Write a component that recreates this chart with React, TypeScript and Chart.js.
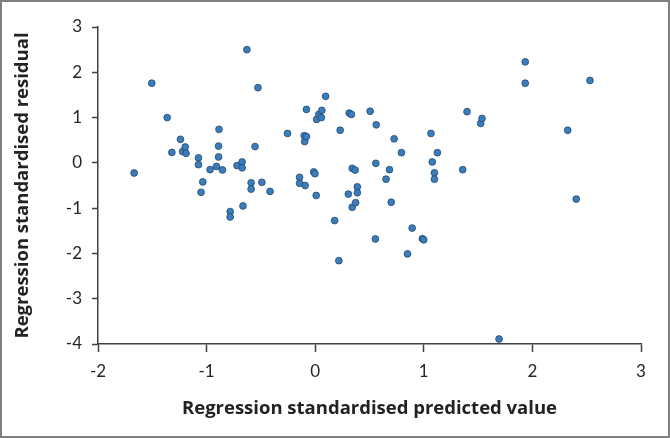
import { useEffect, useRef } from "react";
import Chart from "chart.js/auto";

const predictedValues: number[] = [
  -1.667, -1.505, -1.363, -1.32, -1.241, -1.221, -1.197, -1.189, -1.075, -1.075,
  -1.035, -1.051, -0.968, -0.909, -0.886, -0.89, -0.89, -0.854, -0.783, -0.783,
  -0.72, -0.673, -0.673, -0.665, -0.629, -0.59, -0.59, -0.554, -0.527, -0.491,
  -0.416, -0.255, -0.144, -0.144, -0.093, -0.101, -0.097, -0.081, -0.081, -0.014,
  -0.002, 0.009, 0.013, 0.033, 0.061, 0.057, 0.096, 0.179, 0.218, 0.23,
  0.305, 0.313, 0.333, 0.341, 0.341, 0.368, 0.372, 0.388, 0.388, 0.506,
  0.554, 0.558, 0.562, 0.652, 0.684, 0.7, 0.727, 0.794, 0.85, 0.893,
  0.987, 0.999, 1.066, 1.078, 1.098, 1.098, 1.125, 1.358, 1.398, 1.524,
  1.536, 1.693, 1.934, 1.934, 2.325, 2.404, 2.53,
];

const residualValues: number[] = [
  -0.224, 1.76, 1.0, 0.23, 0.52, 0.25, 0.35, 0.21, 0.11, -0.04,
  -0.42, -0.65, -0.15, -0.08, 0.74, 0.37, 0.13, -0.157, -1.076, -1.194,
  -0.06, 0.02, -0.11, -0.95, 2.5, -0.44, -0.58, 0.36, 1.66, -0.43,
  -0.63, 0.65, -0.32, -0.45, -0.5, 0.6, 0.47, 0.58, 1.18, -0.2,
  -0.24, -0.72, 0.96, 1.07, 1.16, 1.0, 1.47, -1.275, -2.16, 0.72,
  -0.69, 1.1, 1.07, -0.12, -0.98, -0.16, -0.88, -0.53, -0.66, 1.14,
  -1.68, -0.01, 0.84, -0.36, -0.15, -0.87, 0.53, 0.225, -2.01, -1.44,
  -1.675, -1.7, 0.65, 0.02, -0.22, -0.36, 0.225, -0.15, 1.13, 0.87,
  0.98, -3.89, 2.23, 1.76, 0.72, -0.8, 1.82,
];

const xAxisRange = [-2, 3];
const yAxisRange = [-4, 3];
const xTitle = "Regression standardised predicted value";
const yTitle = "Regression standardised residual";

export default function App() {
  const canvasRef = useRef<HTMLCanvasElement | null>(null);

  useEffect(() => {
    document.body.style.margin = "0";
    const canvas = canvasRef.current;
    if (!canvas) return;
    const points = predictedValues.map((x, i) => ({ x, y: residualValues[i] }));
    const axisColor = "#404040";
    const chart = new Chart(canvas, {
      type: "scatter",
      data: {
        datasets: [
          {
            data: points,
            backgroundColor: "#3b7dbb",
            borderColor: "#234a70",
            borderWidth: 0.8,
            pointRadius: 3.4,
          },
        ],
      },
      options: {
        responsive: false,
        animation: false,
        layout: { padding: { top: 27, right: 29, left: 0, bottom: 0 } },
        plugins: { legend: { display: false }, tooltip: { enabled: false } },
        scales: {
          x: {
            type: "linear",
            min: xAxisRange[0],
            max: xAxisRange[1],
            afterFit: (scale: any) => {
              scale.height = 94;
            },
            ticks: {
              stepSize: 1,
              padding: 9,
              color: "#262626",
              font: { family: "Lato", size: 17 },
            },
            grid: {
              drawOnChartArea: false,
              drawTicks: true,
              tickLength: 8,
              tickColor: axisColor,
              tickWidth: 1.5,
            },
            border: { color: axisColor, width: 1.5 },
            title: {
              display: true,
              text: xTitle,
              color: "#222",
              font: { family: "Open Sans", size: 18.5, weight: "bold" },
              padding: { top: 0, bottom: 18 },
            },
          },
          y: {
            type: "linear",
            min: yAxisRange[0],
            max: yAxisRange[1],
            afterFit: (scale: any) => {
              scale.width = 98;
            },
            ticks: {
              stepSize: 1,
              padding: 10,
              color: "#262626",
              font: { family: "Lato", size: 17 },
            },
            grid: {
              drawOnChartArea: false,
              drawTicks: true,
              tickLength: 6,
              tickColor: axisColor,
              tickWidth: 1.5,
            },
            border: { color: axisColor, width: 1.5 },
            title: {
              display: true,
              text: yTitle,
              color: "#222",
              font: { family: "Open Sans", size: 18.5, weight: "bold" },
              padding: { top: 12, bottom: 0 },
            },
          },
        },
      },
    });
    return () => chart.destroy();
  }, []);

  return (
    <div style={{ position: "relative", width: 670, height: 438, background: "#fff" }}>
      <canvas ref={canvasRef} width={670} height={438} style={{ display: "block" }} />
      <div
        style={{
          position: "absolute",
          inset: 0,
          border: "2px solid #808080",
          boxSizing: "border-box",
          pointerEvents: "none",
        }}
      />
    </div>
  );
}
